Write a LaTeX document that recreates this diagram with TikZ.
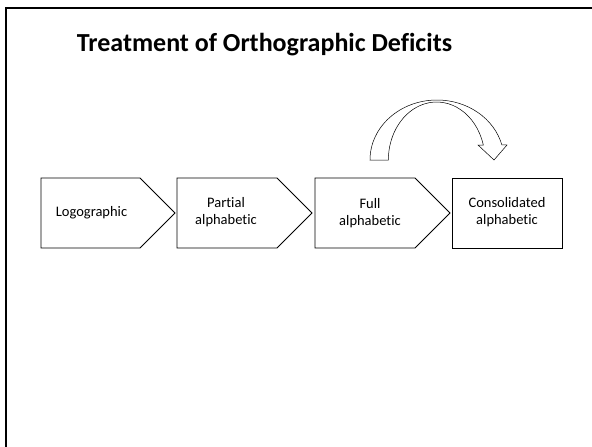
\documentclass[tikz,border=0pt]{standalone}
\usepackage{fontspec}
\setmainfont[Ligatures={NoCommon,NoRare,NoContextual}]{Carlito}
\begin{document}
\begin{tikzpicture}[x=1pt,y=-1pt,
  stage/.style={draw=black,line width=0.8pt,fill=white,line join=miter},
  stagetext/.style={align=center,font=\fontsize{14.5}{17.5}\selectfont,inner sep=0pt},
  skiparrow/.style={draw=black,line width=0.5pt,fill=white,line join=miter}]
  \useasboundingbox (0,0) rectangle (592,447);
  % slide frame (top and left edges)
  \draw[line width=2pt] (6,447) -- (6,8) -- (592,8);

  % title
  \node[anchor=base,font=\fontsize{26}{30}\selectfont\bfseries,inner sep=0pt]
    (title) at (264.5,51) {Treatment of Orthographic Deficits};

  % stage shapes
  \draw[stage] (41,178) -- (140,178) -- (175,213) -- (140,248) -- (41,248) -- cycle;
  \draw[stage] (177,178) -- (277,178) -- (312,213) -- (277,248) -- (177,248) -- cycle;
  \draw[stage] (315,178) -- (415,178) -- (450,213) -- (415,248) -- (315,248) -- cycle;
  \draw[stage] (452,178) rectangle (562,248);

  % stage labels
  \node[stagetext] (logo) at (91.5,213) {Logographic};
  \node[stagetext] (partial) at (226,212) {Partial\\alphabetic};
  \node[stagetext] (full) at (370,213) {Full\\alphabetic};
  \node[stagetext] (cons) at (507,212) {Consolidated\\alphabetic};

  % curved skip arrow from Full to Consolidated
  \draw[skiparrow] (370,160) arc[start angle=180,end angle=14.5,x radius=67,y radius=-60]
    -- (507,145) -- (494,160) -- (478,145) -- (483.3,145)
    arc[start angle=15,end angle=180,x radius=48.3,y radius=-58] -- cycle;
\end{tikzpicture}
\end{document}
